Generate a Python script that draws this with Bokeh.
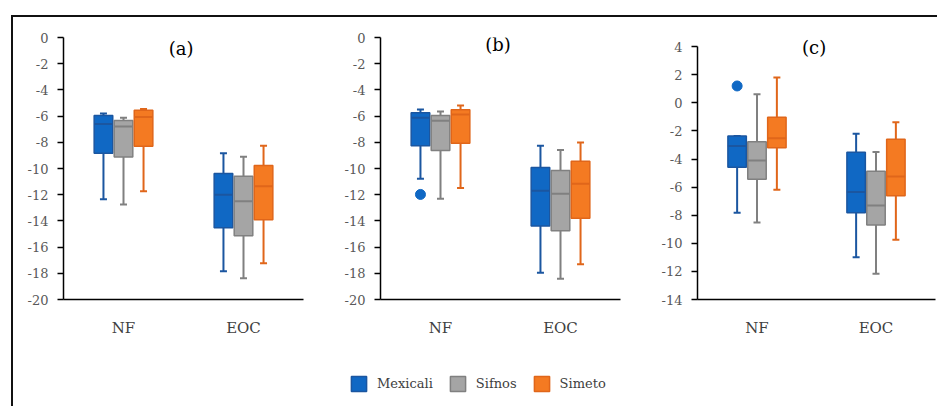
from bokeh.plotting import figure
from bokeh.layouts import row, column
from bokeh.models import (ColumnDataSource, Range1d, FixedTicker, Label,
                          Legend, LegendItem)
from bokeh.embed import file_html
from bokeh.resources import INLINE

# ---------------- data ----------------
groups = ["NF", "EOC"]
series = ["Mexicali", "Sifnos", "Simeto"]
fill_colors = ["#1068C4", "#A5A5A5", "#F47A22"]
line_colors = ["#1B56A0", "#808080", "#E0661A"]

# order: NF-Mexicali, NF-Sifnos, NF-Simeto, EOC-Mexicali, EOC-Sifnos, EOC-Simeto
a_low = [-12.34, -12.75, -11.73, -17.84, -18.37, -17.23]
a_q1 = [-8.83, -9.13, -8.30, -14.53, -15.14, -13.92]
a_med = [-6.60, -6.80, -6.06, -12.00, -12.50, -11.35]
a_q3 = [-5.95, -6.34, -5.55, -10.38, -10.60, -9.77]
a_high = [-5.80, -6.13, -5.45, -8.83, -9.10, -8.27]
a_outliers = []  # (group, series, value)
a_ticks = [0, -2, -4, -6, -8, -10, -12, -14, -16, -18, -20]

b_low = [-10.79, -12.30, -11.48, -17.96, -18.42, -17.30]
b_q1 = [-8.27, -8.63, -8.07, -14.38, -14.76, -13.79]
b_med = [-6.13, -6.36, -5.88, -11.70, -11.93, -11.17]
b_q3 = [-5.75, -5.95, -5.52, -9.92, -10.15, -9.44]
b_high = [-5.50, -5.65, -5.19, -8.27, -8.58, -8.02]
b_outliers = [("NF", "Mexicali", -11.98)]
b_ticks = [0, -2, -4, -6, -8, -10, -12, -14, -16, -18, -20]

c_low = [-7.83, -8.51, -6.19, -10.99, -12.17, -9.74]
c_q1 = [-4.59, -5.44, -3.19, -7.83, -8.70, -6.62]
c_med = [-3.07, -4.11, -2.53, -6.34, -7.30, -5.25]
c_q3 = [-2.36, -2.77, -1.02, -3.52, -4.87, -2.60]
c_high = [-2.36, 0.61, 1.80, -2.20, -3.50, -1.39]
c_outliers = [("NF", "Mexicali", 1.2)]
c_ticks = [4, 2, 0, -2, -4, -6, -8, -10, -12, -14]

FONT = "DejaVu Serif"
offsets = [-0.167, 0.0, 0.167]
box_w = 0.155
H = 338


def make_panel(title, low, q1, med, q3, high, outliers, ticks, yr, width, right_b, title_y):
    p = figure(width=width, height=H, output_backend="svg", toolbar_location=None,
               x_range=Range1d(0, 2), y_range=Range1d(*yr),
               min_border_left=50, min_border_right=right_b,
               min_border_top=20, min_border_bottom=H - 20 - 262,
               outline_line_color=None, background_fill_color="white",
               border_fill_color="white")
    p.xgrid.visible = False
    p.ygrid.visible = False

    xs, cols, lcols = [], [], []
    for gi, g in enumerate(groups):
        for si, s in enumerate(series):
            xs.append(gi + 0.5 + offsets[si])
            cols.append(fill_colors[si])
            lcols.append(line_colors[si])
    src = ColumnDataSource(dict(x=xs, low=low, q1=q1, med=med, q3=q3, high=high,
                                fill=cols, line=lcols,
                                mx0=[x - box_w / 2 for x in xs],
                                mx1=[x + box_w / 2 for x in xs]))
    # whiskers
    p.segment(x0="x", x1="x", y0="q3", y1="high", line_color="line", line_width=2, source=src)
    p.segment(x0="x", x1="x", y0="q1", y1="low", line_color="line", line_width=2, source=src)
    p.scatter(x="x", y="high", marker="dash", size=7, line_color="line", line_width=2, source=src)
    p.scatter(x="x", y="low", marker="dash", size=7, line_color="line", line_width=2, source=src)
    # boxes
    p.vbar(x="x", width=box_w, top="q3", bottom="q1", fill_color="fill",
           line_color="line", line_width=1.5, source=src)
    # medians
    p.segment(x0="mx0", x1="mx1", y0="med", y1="med", line_color="line", line_width=2, source=src)
    # outliers
    if outliers:
        ox = [groups.index(g) + 0.5 + offsets[series.index(s)] for g, s, v in outliers]
        oy = [v for g, s, v in outliers]
        oc = [fill_colors[series.index(s)] for g, s, v in outliers]
        p.scatter(x=ox, y=oy, size=10, fill_color=oc, line_color=oc)

    p.yaxis.ticker = FixedTicker(ticks=ticks)
    p.yaxis.major_label_overrides = {t: str(t) for t in ticks}
    p.yaxis.bounds = (min(ticks), max(ticks))
    p.yaxis.axis_line_color = "black"
    p.yaxis.axis_line_width = 1.5
    p.yaxis.major_tick_line_color = "black"
    p.yaxis.major_tick_line_width = 1.5
    p.yaxis.major_tick_out = 6
    p.yaxis.major_tick_in = 0
    p.yaxis.minor_tick_line_color = None
    p.yaxis.major_label_text_font = FONT
    p.yaxis.major_label_text_font_size = "13px"
    p.yaxis.major_label_text_color = "#595959"
    p.yaxis.major_label_standoff = 9

    p.xaxis.ticker = FixedTicker(ticks=[0.5, 1.5])
    p.xaxis.major_label_overrides = {0.5: groups[0], 1.5: groups[1]}
    p.xaxis.axis_line_color = "black"
    p.xaxis.axis_line_width = 1.5
    p.xaxis.major_tick_line_color = None
    p.xaxis.minor_tick_line_color = None
    p.xaxis.major_label_text_font = FONT
    p.xaxis.major_label_text_font_size = "15px"
    p.xaxis.major_label_text_color = "#404040"
    p.xaxis.major_label_standoff = 13

    p.add_layout(Label(x=0.98, y=title_y, text=title, text_font=FONT, text_font_size="18px",
                       text_color="black", text_align="center", text_baseline="middle"))
    return p, src


pa, _ = make_panel("(a)", a_low, a_q1, a_med, a_q3, a_high, a_outliers, a_ticks,
                   (-20, 0), 317, 27, -0.85)
pb, b_src = make_panel("(b)", b_low, b_q1, b_med, b_q3, b_high, b_outliers, b_ticks,
                       (-20, 0), 317, 27, -0.55)
pc, _ = make_panel("(c)", c_low, c_q1, c_med, c_q3, c_high, c_outliers, c_ticks,
                   (-14, 4.65), 290, 2, 3.95)

# legend strip: reuses the series box style through a muted (fully transparent) renderer
pl = figure(width=924, height=51, output_backend="svg", toolbar_location=None,
            x_range=Range1d(0, 2), y_range=Range1d(0, 1), x_axis_type=None, y_axis_type=None,
            min_border=0, outline_line_color=None, background_fill_color="white",
            border_fill_color="white")
pl.xgrid.visible = False
pl.ygrid.visible = False
proxy = pl.vbar(x="x", width=box_w, top="q3", bottom="q1", fill_color="fill",
                line_color="line", line_width=1.5, source=b_src, muted_alpha=0)
proxy.muted = True
items = [LegendItem(label=s, renderers=[proxy], index=i) for i, s in enumerate(series)]
leg = Legend(items=items, orientation="horizontal", location=(336, 13),
             glyph_width=19, glyph_height=19, label_height=19, label_standoff=9,
             spacing=15, padding=0, margin=0, border_line_color=None,
             background_fill_alpha=0, label_text_font=FONT, label_text_font_size="13px",
             label_text_color="#404040", click_policy="none")
pl.add_layout(leg, "center")

layout = column(row(pa, pb, pc), pl,
                styles={"border-left": "2px solid #111", "border-top": "2px solid #111",
                        "margin-left": "11px", "margin-top": "15px"})

open("out.html", "w").write(file_html(layout, INLINE))
